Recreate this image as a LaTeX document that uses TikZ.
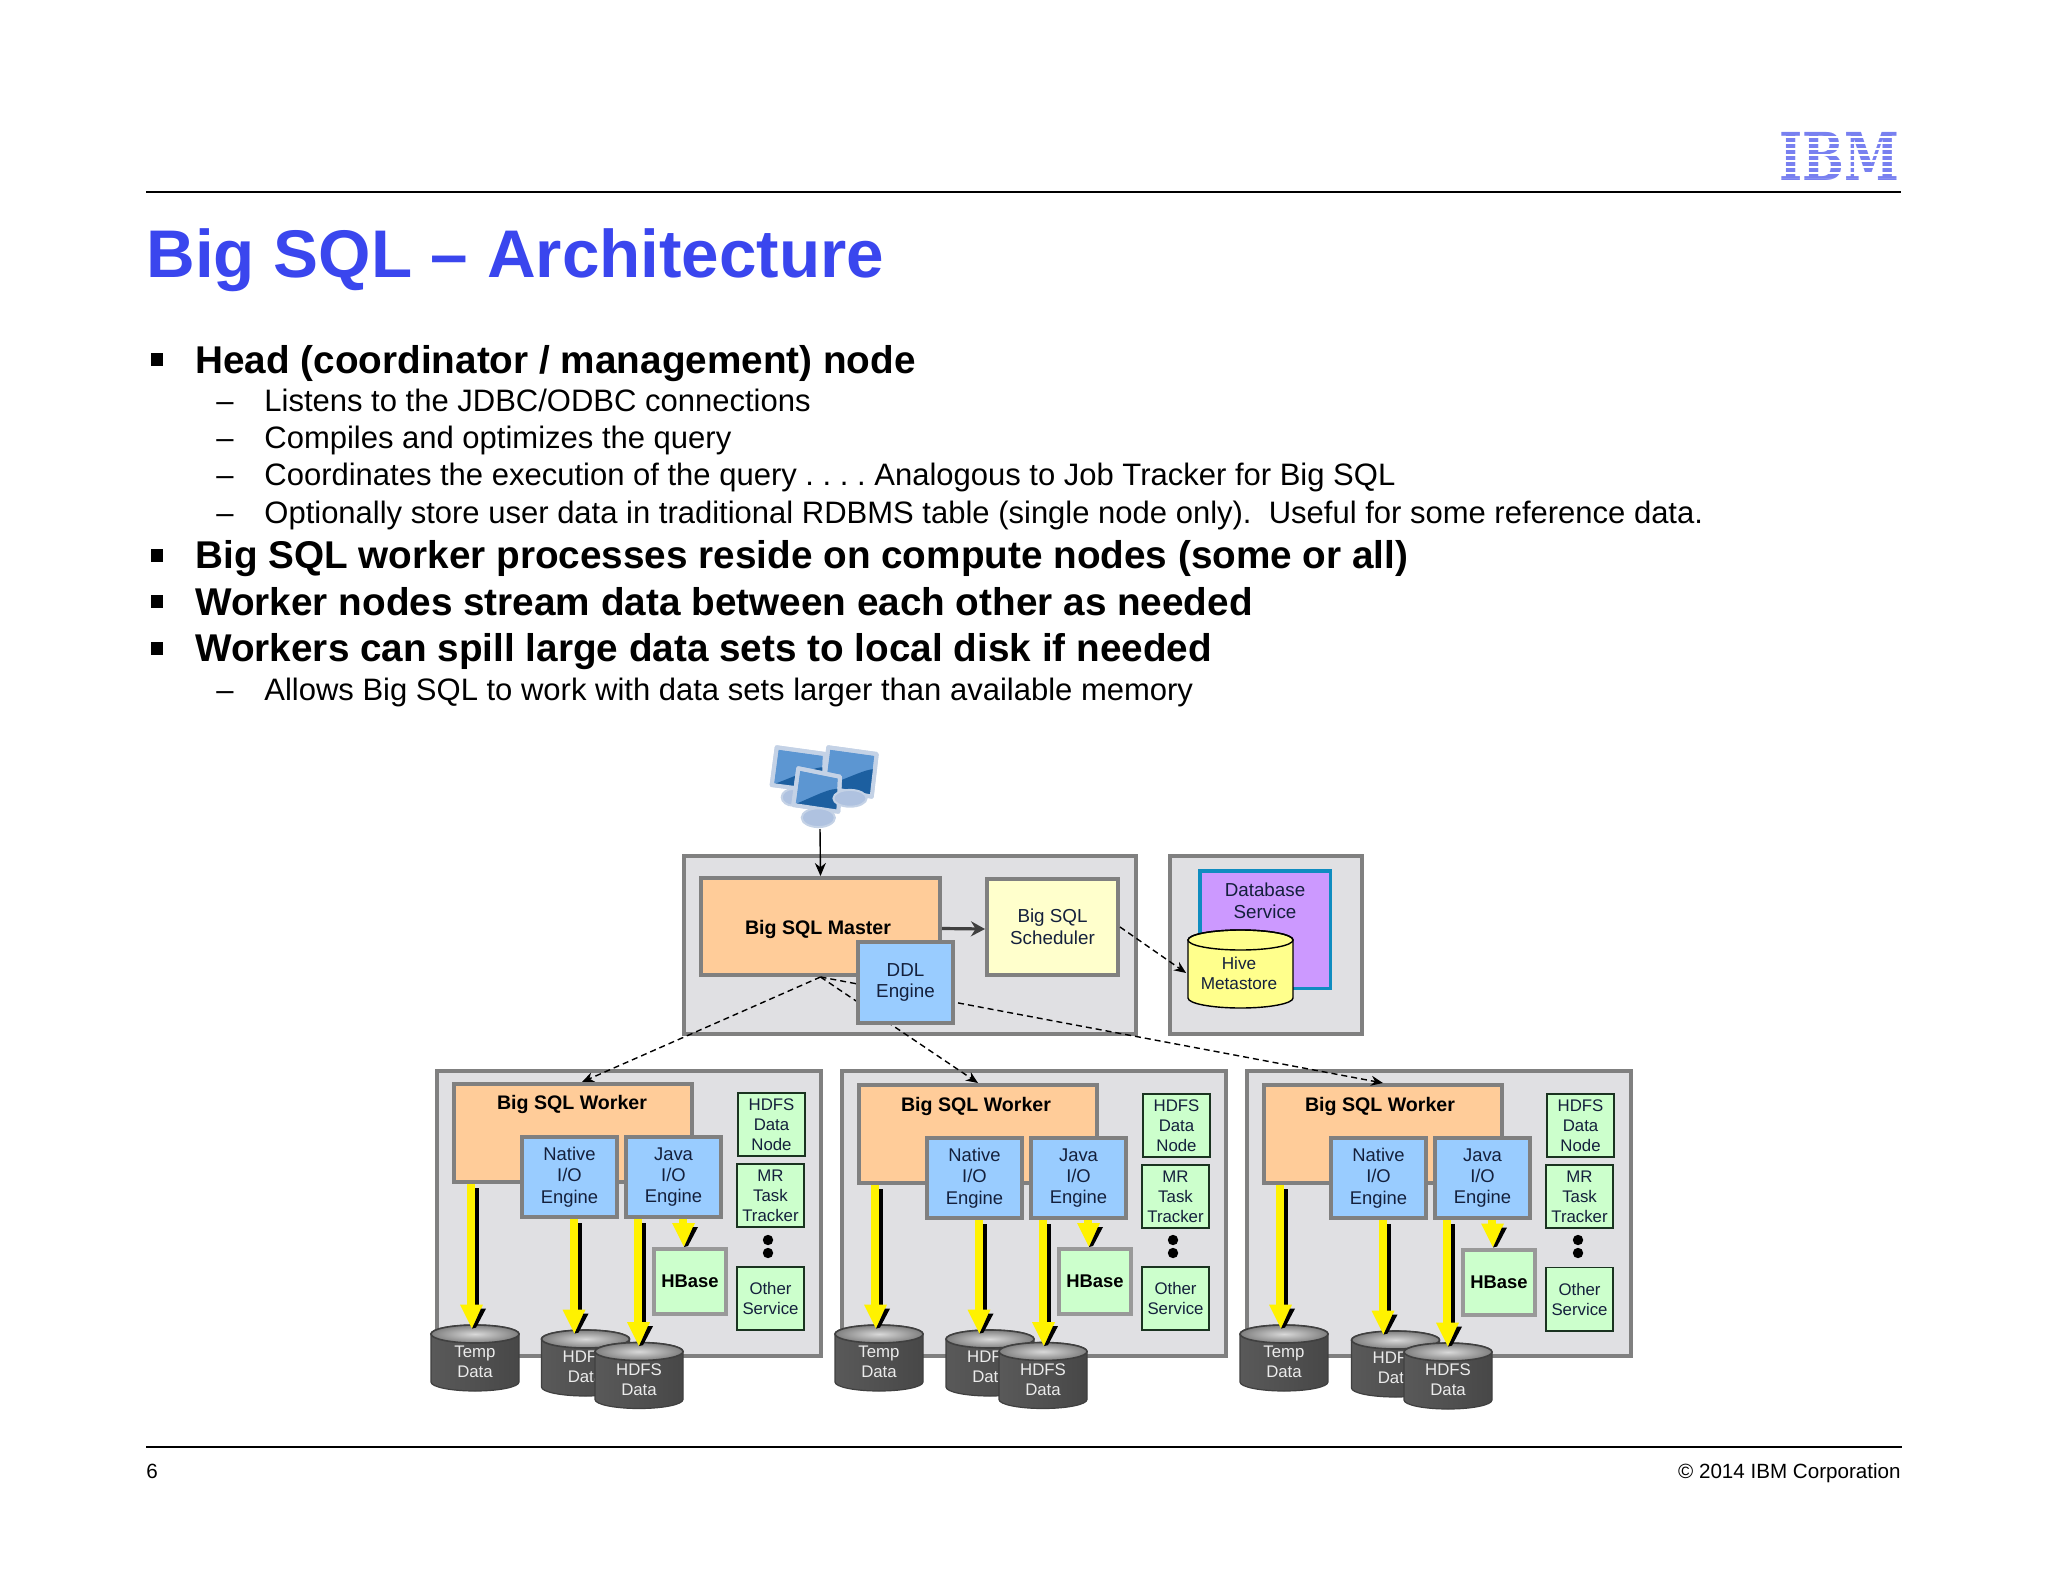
\documentclass[tikz,border=0pt]{standalone}
\usepackage{fontspec}
\setmainfont{Liberation Sans}
\newfontfamily\logofont{DejaVu Serif}
\usetikzlibrary{calc,arrows.meta}
\definecolor{titleblue}{HTML}{3A46EE}
\definecolor{logoblue}{HTML}{7880F0}
\definecolor{panelgray}{HTML}{E0E0E3}
\definecolor{edgegray}{HTML}{808080}
\definecolor{peach}{HTML}{FFCC99}
\definecolor{paleyellow}{HTML}{FFFFCC}
\definecolor{skyblue}{HTML}{99CCFF}
\definecolor{lilac}{HTML}{CC99FF}
\definecolor{tealedge}{HTML}{0F8CC0}
\definecolor{mint}{HTML}{CCFFCC}
\definecolor{minteedge}{HTML}{1A3320}
\definecolor{hiveyellow}{HTML}{FFFF8C}
\definecolor{inkblue}{HTML}{14203C}
\definecolor{pcblue}{HTML}{5C96D2}
\definecolor{pcdark}{HTML}{1C5FA0}
\definecolor{pcframe}{HTML}{C4D2E6}
\definecolor{pcbase}{HTML}{AFC2E0}
\tikzset{
	titleline/.style={anchor=base west,inner sep=0pt,text=titleblue,font=\fontsize{33.7}{40}\selectfont\bfseries},
	boldline/.style={anchor=base west,inner sep=0pt,font=\fontsize{19.35}{24}\selectfont\bfseries},
	subline/.style={anchor=base west,inner sep=0pt,font=\fontsize{15.5}{20}\selectfont},
	footline/.style={inner sep=0pt,font=\fontsize{10.3}{12}\selectfont},
	rulerline/.style={line width=1pt},
	framebox/.style={draw=edgegray,fill=panelgray,line width=2pt,inner sep=0pt},
	masterbox/.style={draw=edgegray,fill=peach,line width=2pt,inner sep=0pt,minimum width=119.5pt,minimum height=48.5pt},
	schedbox/.style={draw=edgegray,fill=paleyellow,line width=2pt,inner sep=0pt,align=center,text=inkblue,minimum width=65.5pt,minimum height=48pt,font=\fontsize{9.4}{10.8}\selectfont},
	enginebox/.style={draw=edgegray,fill=skyblue,line width=2pt,inner sep=0pt,align=center,text=inkblue,minimum width=47.5pt,minimum height=40pt,font=\fontsize{9.2}{10.7}\selectfont},
	workerbox/.style={draw=edgegray,fill=peach,line width=2pt,inner sep=0pt,minimum width=119pt,minimum height=49pt},
	workerlabel/.style={inner sep=0pt,font=\fontsize{9.8}{12}\selectfont\bfseries},
	servicebox/.style={draw=minteedge,fill=mint,line width=.8pt,inner sep=0pt,align=center,text=inkblue,minimum width=33.7pt,minimum height=31.7pt,font=\fontsize{8.4}{10}\selectfont},
	hbasebox/.style={draw=edgegray!80,fill=mint,line width=2pt,inner sep=0pt,minimum width=36pt,minimum height=32.5pt,font=\fontsize{9.2}{11}\selectfont\bfseries},
	disklabel/.style={inner sep=0pt,align=center,text=white!92!black,minimum width=44pt,minimum height=33pt,yshift=-2pt,font=\fontsize{8.4}{10}\selectfont},
	diskbody/.style={draw=black!75,line width=.6pt,left color=black!65,middle color=black!40,right color=black!72},
	diskend/.style={draw=black!75,line width=.8pt,inner color=black!15,outer color=black!50},
	thinarrow/.style={-{Stealth[length=6.5pt,width=5.5pt]},line width=.7pt},
	dashline/.style={-{Stealth[length=6pt,width=5pt]},dash pattern=on 3pt off 2pt,line width=.7pt},
}
\newcommand{\datadisk}[3]{%
	\begin{scope}[shift={(#2)}]
		\shade[diskbody] (-44,-24) -- (-44,24) arc[start angle=180,end angle=360,x radius=22pt,y radius=4.5pt] -- (44,-24) arc[start angle=0,end angle=180,x radius=22pt,y radius=4.5pt] -- cycle;
		\shade[diskend] (0,-24) ellipse[x radius=22pt,y radius=4.5pt];
	\end{scope}
	\node[disklabel] (#1) at (#2) {#3};
}
\newcommand{\spillarrow}[2]{%
	\coordinate (spA) at (#1);
	\coordinate (spB) at (spA |- #2);
	\begin{scope}[shift={(spB)}]
		\fill[black] ($(spA)-(spB)+(4,4)$) rectangle (8,-24);
		\fill[yellow] ($(spA)-(spB)+(-4,0)$) rectangle (4,-24);
		\fill[yellow] (-11,-24) -- (12,-24) -- (1,0) -- cycle;
		\fill[black] (1,0) -- (5,-1) -- (15,-20) -- (10,-20) -- cycle;
	\end{scope}
}
\newcommand{\pcmonitor}[4]{%
	\filldraw[draw=pcframe,fill=pcblue,line width=2pt,line join=round] (#1) -- (#2) -- (#3) -- (#4) -- cycle;
	\fill[pcdark] (#4) .. controls ($(#4)!.45!(#3)+(6,-14)$) and ($(#2)!.5!(#3)+(-10,-6)$) .. ($(#2)!.35!(#3)$) -- (#3) -- cycle;
	\draw[pcframe,line width=2pt,line join=round] (#1) -- (#2) -- (#3) -- (#4) -- cycle;
}
\begin{document}
\begin{tikzpicture}[x=0.5pt,y=-0.5pt]
	\useasboundingbox (0,0) rectangle (2048,1582);
	\node[inner sep=0pt,text=logoblue,font=\fontsize{33}{33}\selectfont\logofont\bfseries,xscale=.75] (logo) at (1839,156) {IBM};
	\draw[white,line width=66pt,dash pattern=on 1.1pt off 1.9pt] (1839,136) -- (1839,178);
	\coordinate (topL) at (146,192);
	\coordinate (topR) at (1901,192);
	\draw[rulerline] (topL) -- (topR);
	\node[titleline] (title) at (146,278) {Big SQL – Architecture};

	\fill (151,353) rectangle (163,366);
	\node[boldline] (bold1) at (195,374) {Head (coordinator / management) node};
	\node[subline] (dash1) at (216,412) {–};
	\node[subline] (sub1) at (264,412) {Listens to the JDBC/ODBC connections};
	\node[subline] (dash2) at (216,449) {–};
	\node[subline] (sub2) at (264,449) {Compiles and optimizes the query};
	\node[subline] (dash3) at (216,486) {–};
	\node[subline] (sub3) at (264,486) {\frenchspacing Coordinates the execution of the query . . . . Analogous to Job Tracker for Big SQL};
	\node[subline] (dash4) at (216,524) {–};
	\node[subline] (sub4) at (264,524) {Optionally store user data in traditional RDBMS table (single node only).\ \ Useful for some reference data.};
	\fill (151,549) rectangle (163,562);
	\node[boldline] (bold2) at (195,568) {Big SQL worker processes reside on compute nodes (some or all)};
	\fill (151,595) rectangle (163,608);
	\node[boldline] (bold3) at (195,615) {Worker nodes stream data between each other as needed};
	\fill (151,642) rectangle (163,655);
	\node[boldline] (bold4) at (195,661) {Workers can spill large data sets to local disk if needed};
	\node[subline] (dash5) at (216,700) {–};
	\node[subline] (sub5) at (264,700) {Allows Big SQL to work with data sets larger than available memory};

	\filldraw[draw=pcframe,fill=pcbase,line width=1pt] (793.3,797.3) ellipse[x radius=5.8pt,y radius=4.2pt];
	\pcmonitor{776.7,747.3}{825,754}{823.3,791.7}{771.7,785}
	\pcmonitor{828.3,747.3}{876.7,754}{871.7,796.7}{823.3,786.7}
	\pcmonitor{798.3,768.3}{840,776.7}{838.3,811.7}{793.3,805}
	\filldraw[draw=pcframe,fill=pcbase,line width=1pt] (850,798.3) ellipse[x radius=8.3pt,y radius=4.2pt];
	\filldraw[draw=pcframe,fill=pcbase,line width=1pt] (818.3,817.7) ellipse[x radius=8.3pt,y radius=4.7pt];
	\coordinate (clients) at (820,829);

	\node[framebox,minimum width=226pt,minimum height=89pt] (headframe) at (910,945) {};
	\node[framebox,minimum width=96pt,minimum height=89pt] (dbframe) at (1266,945) {};
	\node[framebox,minimum width=192pt,minimum height=142.5pt] (frame1) at (629,1213.5) {};
	\node[framebox,minimum width=192pt,minimum height=142.5pt] (frame2) at (1034,1213.5) {};
	\node[framebox,minimum width=192pt,minimum height=142.5pt] (frame3) at (1439,1213.5) {};

	\node[masterbox] (master) at (820.5,926.5) {};
	\node[workerlabel] (masterlabel) at (818,929) {Big SQL Master};
	\node[schedbox] (sched) at (1052.5,927) {Big SQL\\Scheduler};
	\node[draw=tealedge,fill=lilac,line width=1.75pt,inner sep=0pt,minimum width=65.25pt,minimum height=58.75pt] (dbservice) at (1265,929.5) {};
	\node[inner sep=0pt,align=center,text=inkblue,font=\fontsize{9.4}{10.8}\selectfont] (dblabel) at (1265,901) {Database\\Service};
	\begin{scope}[shift={(1240.5,969)}]
		\filldraw[draw=black,fill=hiveyellow,line width=.7pt] (-52.5,-29) -- (-52.5,29) arc[start angle=180,end angle=360,x radius=26.25pt,y radius=5pt] -- (52.5,-29) arc[start angle=0,end angle=180,x radius=26.25pt,y radius=5pt] -- cycle;
		\draw[line width=.7pt] (0,-29) ellipse[x radius=26.25pt,y radius=5pt];
	\end{scope}
	\node[inner sep=0pt,align=center,text=inkblue,minimum width=52.5pt,font=\fontsize{8.6}{10}\selectfont] (hive) at (1239,973) {Hive\\Metastore};

	\node[workerbox] (head1) at (573,1133) {};
	\node[workerlabel] (headtext1) at (572,1104) {Big SQL Worker};
	\node[enginebox] (native1) at (569.5,1177) {Native\\I/O\\Engine};
	\node[enginebox] (java1) at (673.5,1177) {Java\\I/O\\Engine};
	\node[servicebox] (hdfsnode1) at (771.5,1124.5) {HDFS\\Data\\Node};
	\node[servicebox] (tracker1) at (770.5,1195.5) {MR\\Task\\Tracker};
	\fill (768,1240) circle[radius=2.6pt];
	\fill (768,1253) circle[radius=2.6pt];
	\node[servicebox] (other1) at (770.5,1298.5) {Other\\Service};
	\node[hbasebox] (hbase1) at (690,1281.5) {HBase};
	\datadisk{temp1}{475,1358}{Temp\\Data}
	\datadisk{hdfsa1}{585.5,1363}{HDFS\\Data}
	\datadisk{hdfsb1}{639,1375.5}{HDFS\\Data}
	\spillarrow{[xshift=-2pt]temp1.north |- head1.south}{temp1.north}
	\spillarrow{[xshift=2pt]native1.south}{hdfsa1.north}
	\spillarrow{[xshift=-17.75pt]java1.south}{hdfsb1.north}
	\spillarrow{[xshift=4.75pt]java1.south}{hbase1.north}

	\node[workerbox] (head2) at (978,1134) {};
	\node[workerlabel] (headtext2) at (976,1106) {Big SQL Worker};
	\node[enginebox] (native2) at (974.5,1178) {Native\\I/O\\Engine};
	\node[enginebox] (java2) at (1078.5,1178) {Java\\I/O\\Engine};
	\node[servicebox] (hdfsnode2) at (1176.5,1125.5) {HDFS\\Data\\Node};
	\node[servicebox] (tracker2) at (1175.5,1196.5) {MR\\Task\\Tracker};
	\fill (1173,1240) circle[radius=2.6pt];
	\fill (1173,1253) circle[radius=2.6pt];
	\node[servicebox] (other2) at (1175.5,1298.5) {Other\\Service};
	\node[hbasebox] (hbase2) at (1095,1281.5) {HBase};
	\datadisk{temp2}{879,1358}{Temp\\Data}
	\datadisk{hdfsa2}{990,1363}{HDFS\\Data}
	\datadisk{hdfsb2}{1043,1375.5}{HDFS\\Data}
	\spillarrow{[xshift=-2pt]temp2.north |- head2.south}{temp2.north}
	\spillarrow{[xshift=2pt]native2.south}{hdfsa2.north}
	\spillarrow{[xshift=-17.75pt]java2.south}{hdfsb2.north}
	\spillarrow{[xshift=4.75pt]java2.south}{hbase2.north}

	\node[workerbox] (head3) at (1383,1134) {};
	\node[workerlabel] (headtext3) at (1380,1106) {Big SQL Worker};
	\node[enginebox] (native3) at (1378.5,1178) {Native\\I/O\\Engine};
	\node[enginebox] (java3) at (1482.5,1178) {Java\\I/O\\Engine};
	\node[servicebox] (hdfsnode3) at (1580.5,1125.5) {HDFS\\Data\\Node};
	\node[servicebox] (tracker3) at (1579.5,1196.5) {MR\\Task\\Tracker};
	\fill (1578,1240) circle[radius=2.6pt];
	\fill (1578,1253) circle[radius=2.6pt];
	\node[servicebox] (other3) at (1579.5,1299) {Other\\Service};
	\node[hbasebox] (hbase3) at (1499,1282) {HBase};
	\datadisk{temp3}{1284,1358}{Temp\\Data}
	\datadisk{hdfsa3}{1395.5,1364}{HDFS\\Data}
	\datadisk{hdfsb3}{1448,1376}{HDFS\\Data}
	\spillarrow{[xshift=-2pt]temp3.north |- head3.south}{temp3.north}
	\spillarrow{[xshift=2pt]native3.south}{hdfsa3.north}
	\spillarrow{[xshift=-17.75pt]java3.south}{hdfsb3.north}
	\spillarrow{[xshift=4.75pt]java3.south}{hbase3.north}

	\draw[thinarrow] (clients) -- (master.north);
	\draw[-{Stealth[length=7pt,width=7.5pt]},draw=black!75,line width=1.6pt] ([yshift=-1pt]master.east) -- ([yshift=-1pt]sched.west);
	\draw[dashline] (sched.east) -- (hive.west);
	\draw[dashline] (master.south) -- ([xshift=4.5pt]head1.north);
	\draw[dashline] (master.south) -- (head2.north);
	\draw[dashline] (master.south) -- (head3.north);
	\node[enginebox,minimum height=40.5pt,font=\fontsize{9.4}{10.8}\selectfont] (ddl) at (905.5,982.5) {DDL\\Engine};

	\coordinate (botL) at (146,1447);
	\coordinate (botR) at (1902,1447);
	\draw[rulerline] (botL) -- (botR);
	\node[footline,anchor=base west] (pageno) at (146,1478) {6};
	\node[footline,anchor=base east] (copyright) at (1901,1478) {© 2014 IBM Corporation};
\end{tikzpicture}
\end{document}
